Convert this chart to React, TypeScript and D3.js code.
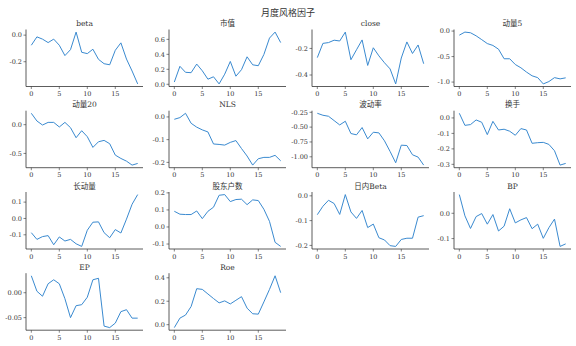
import React from "react";
import * as d3 from "d3";

const mainTitle = "月度风格因子";
const titles = ["beta", "市值", "close", "动量5", "动量20", "NLS", "波动率", "换手", "长动量", "股东户数", "日内Beta", "BP", "EP", "Roe"];

const beta = [-0.076, -0.013, -0.03, -0.056, -0.03, -0.076, -0.154, -0.109, 0.023, -0.129, -0.139, -0.106, -0.182, -0.215, -0.223, -0.114, -0.058, -0.18, -0.27, -0.367];
const size = [0.03, 0.24, 0.16, 0.155, 0.27, 0.18, 0.068, 0.1, 0.005, 0.135, 0.305, 0.108, 0.195, 0.367, 0.26, 0.248, 0.398, 0.617, 0.697, 0.557];
const close = [-0.269, -0.162, -0.156, -0.138, -0.144, -0.077, -0.285, -0.21, -0.136, -0.328, -0.195, -0.256, -0.308, -0.354, -0.467, -0.272, -0.151, -0.238, -0.174, -0.315];
const mom5 = [-0.08, -0.02, -0.033, -0.093, -0.168, -0.245, -0.282, -0.355, -0.543, -0.543, -0.656, -0.72, -0.804, -0.877, -0.913, -1.036, -0.99, -0.913, -0.937, -0.917];
const mom20 = [0.198, 0.064, -0.006, 0.04, 0.04, -0.04, 0.04, -0.052, -0.227, -0.105, -0.209, -0.395, -0.297, -0.273, -0.331, -0.529, -0.587, -0.634, -0.703, -0.674];
const nls = [-0.0104, -0.003, 0.016, -0.028, -0.045, -0.057, -0.066, -0.119, -0.121, -0.124, -0.112, -0.104, -0.139, -0.172, -0.212, -0.184, -0.178, -0.178, -0.169, -0.193];
const vol = [-0.267, -0.3, -0.317, -0.39, -0.463, -0.401, -0.608, -0.63, -0.507, -0.698, -0.586, -0.597, -0.731, -0.91, -1.1, -0.804, -0.81, -0.966, -1.005, -1.14];
const turnover = [0.03, -0.048, -0.043, -0.013, -0.028, -0.108, -0.022, -0.078, -0.073, -0.086, -0.112, -0.069, -0.078, -0.164, -0.16, -0.158, -0.171, -0.212, -0.305, -0.294];
const longMom = [-0.087, -0.128, -0.111, -0.105, -0.161, -0.113, -0.138, -0.128, -0.155, -0.171, -0.072, -0.023, -0.021, -0.087, -0.118, -0.068, -0.089, -0.004, 0.087, 0.146];
const holders = [0.092, 0.075, 0.073, 0.073, 0.094, 0.049, 0.092, 0.116, 0.186, 0.19, 0.149, 0.161, 0.163, 0.131, 0.159, 0.155, 0.104, 0.033, -0.09, -0.114];
const intraBeta = [-0.076, -0.042, -0.018, -0.031, -0.075, 0.005, -0.065, -0.091, -0.059, -0.128, -0.114, -0.169, -0.178, -0.201, -0.204, -0.176, -0.171, -0.171, -0.086, -0.08];
const bp = [0.074, -0.01, -0.06, -0.013, -0.001, -0.043, -0.005, -0.07, -0.051, 0.018, -0.038, -0.026, -0.017, -0.061, -0.043, -0.099, -0.057, -0.023, -0.131, -0.121];
const ep = [0.034, 0.003, -0.007, 0.018, 0.026, 0.018, -0.012, -0.05, -0.026, -0.024, -0.009, 0.026, 0.029, -0.067, -0.07, -0.061, -0.038, -0.034, -0.051, -0.051];
const roe = [-0.025, 0.056, 0.082, 0.155, 0.307, 0.301, 0.262, 0.223, 0.186, 0.203, 0.177, 0.208, 0.239, 0.141, 0.093, 0.09, 0.194, 0.301, 0.417, 0.273];

const seriesList = [beta, size, close, mom5, mom20, nls, vol, turnover, longMom, holders, intraBeta, bp, ep, roe];

const yTicksList = [
  [0.0, -0.2],
  [0.0, 0.2, 0.4, 0.6],
  [-0.2, -0.4],
  [0.0, -0.5, -1.0],
  [0.0, -0.5],
  [0.0, -0.1, -0.2],
  [-0.25, -0.5, -0.75, -1.0],
  [0.0, -0.1, -0.2, -0.3],
  [0.1, 0.0, -0.1],
  [0.2, 0.1, 0.0, -0.1],
  [0.0, -0.1, -0.2],
  [0.0, -0.1],
  [0.0, -0.05],
  [0.0, 0.2, 0.4],
];
const yDecimals = [1, 1, 1, 1, 1, 1, 2, 1, 1, 1, 1, 1, 2, 1];
const xTicks = [0, 5, 10, 15];

const W = 576;
const H = 346;
const colLefts = [26, 169, 312, 454];
const axW = 117;
const rowTops = [29.5, 110.7, 192, 273.2];
const axH = 57;
const ink = "#333333";
const lineColor = "#3a8ad0";
const font = "'DejaVu Serif', 'Noto Sans CJK SC', serif";

function Panel({ idx }: { idx: number }) {
  const data = seriesList[idx];
  const left = colLefts[idx % 4];
  const top = rowTops[Math.floor(idx / 4)];
  const n = data.length;
  const x = d3.scaleLinear().domain([-(n - 1) * 0.05, (n - 1) * 1.05]).range([left, left + axW]);
  const [mn, mx] = d3.extent(data) as [number, number];
  const r = mx - mn;
  const y = d3.scaleLinear().domain([mn - 0.05 * r, mx + 0.05 * r]).range([top + axH, top]);
  const line = d3.line<number>().x((_, i) => x(i)).y((d) => y(d));
  const fmt = d3.format(`.${yDecimals[idx]}f`);
  const bottom = top + axH;
  return (
    <g>
      <text x={left + axW / 2} y={top - 3.5} textAnchor="middle" fontSize={7.5} fill={ink} fontFamily={font}>
        {titles[idx]}
      </text>
      <path d={line(data) || ""} fill="none" stroke={lineColor} strokeWidth={1} />
      <line x1={left} x2={left} y1={top} y2={bottom} stroke={ink} strokeWidth={0.8} />
      <line x1={left} x2={left + axW} y1={bottom} y2={bottom} stroke={ink} strokeWidth={0.8} />
      {yTicksList[idx].map((t) => (
        <g key={"y" + t}>
          <line x1={left - 2.5} x2={left} y1={y(t)} y2={y(t)} stroke={ink} strokeWidth={0.6} />
          <text x={left - 4} y={y(t)} dy="0.35em" textAnchor="end" fontSize={6.5} fill={ink} fontFamily={font}>
            {fmt(t).replace("−", "-")}
          </text>
        </g>
      ))}
      {xTicks.map((t) => (
        <g key={"x" + t}>
          <line x1={x(t)} x2={x(t)} y1={bottom} y2={bottom + 2.5} stroke={ink} strokeWidth={0.6} />
          <text x={x(t)} y={bottom + 9.5} textAnchor="middle" fontSize={6.5} fill={ink} fontFamily={font}>
            {t}
          </text>
        </g>
      ))}
    </g>
  );
}

export default function App() {
  return (
    <svg width={W} height={H} style={{ position: "absolute", left: 0, top: 0, background: "#fff" }}>
      <rect width={W} height={H} fill="#fff" />
      <text x={W / 2} y={16} textAnchor="middle" fontSize={9} fill={ink} fontFamily={font}>
        {mainTitle}
      </text>
      {seriesList.map((_, i) => (
        <Panel key={i} idx={i} />
      ))}
    </svg>
  );
}
